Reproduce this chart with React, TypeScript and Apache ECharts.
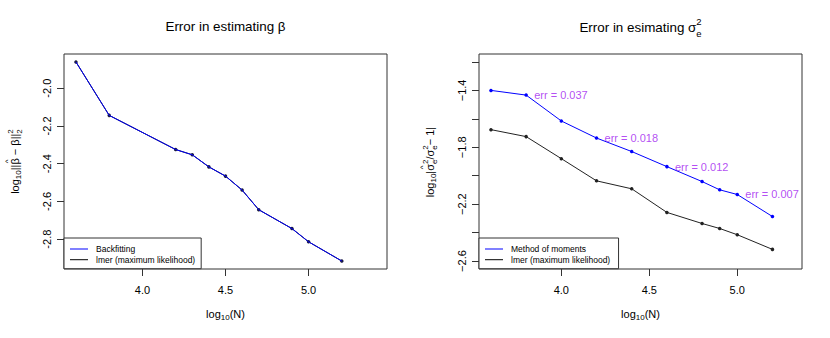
import React, { useEffect, useRef } from 'react';
import * as echarts from 'echarts';

const FONT = '"Liberation Sans", Arial, Helvetica, sans-serif';

// ---------- Left panel: error in estimating beta ----------
const logNBeta = [3.6, 3.8, 4.2, 4.3, 4.4, 4.5, 4.6, 4.7, 4.9, 5.0, 5.2];
const backfittingErr = [-1.861, -2.144, -2.325, -2.353, -2.417, -2.466, -2.54, -2.644, -2.744, -2.814, -2.916];
const lmerBetaErr = [-1.861, -2.144, -2.325, -2.353, -2.417, -2.466, -2.54, -2.644, -2.744, -2.814, -2.916];
const betaXTicks = [4.0, 4.5, 5.0];
const betaYTicks = [-2.8, -2.6, -2.4, -2.2, -2.0];
const betaXLim = [3.6, 5.4];

// ---------- Right panel: error in estimating sigma_e^2 ----------
const logNSigma = [3.6, 3.8, 4.0, 4.2, 4.4, 4.6, 4.8, 4.9, 5.0, 5.2];
const momErr = [-1.4, -1.433, -1.615, -1.735, -1.83, -1.936, -2.041, -2.099, -2.132, -2.287];
const lmerSigmaErr = [-1.676, -1.725, -1.88, -2.036, -2.092, -2.258, -2.336, -2.371, -2.415, -2.518];
const sigmaXTicks = [4.0, 4.5, 5.0];
const sigmaYTicks = [-2.6, -2.4, -2.2, -2.0, -1.8, -1.6, -1.4, -1.2];
const sigmaYLabels = [-2.6, -2.2, -1.8, -1.4];
const sigmaXLim = [3.6, 5.3];
const sigmaYLim = [-2.6, -1.2];
const errAt = [3.8, 4.2, 4.6, 5.0];
const errText = ['err = 0.037', 'err = 0.018', 'err = 0.012', 'err = 0.007'];

const BLUE = '#0000ff';
const BLACK = '#000000';
const PURPLE = '#a020f0';

function rlim(lo: number, hi: number) {
  const r = hi - lo;
  return [lo - 0.04 * r, hi + 0.04 * r];
}

type Tok = { t: string; s: number; dy?: number; keep?: boolean; over?: boolean };

let _ctx: CanvasRenderingContext2D | null = null;
function measure(t: string, s: number) {
  if (!_ctx) _ctx = document.createElement('canvas').getContext('2d');
  _ctx!.font = `${s}px "Liberation Sans", Arial, sans-serif`;
  return _ctx!.measureText(t).width;
}

function buildText(tokens: Tok[], cx: number, cy: number, rot: number, fill: string) {
  let x = 0;
  let pending = 0;
  const items: any[] = [];
  for (let i = 0; i < tokens.length; i++) {
    const tk = tokens[i];
    const w = measure(tk.t, tk.s);
    if (tk.over) {
      const next = tokens[i + 1];
      const wn = next ? measure(next.t, next.s) : w;
      items.push({ x: x + (wn - w) / 2, tk });
      continue;
    }
    items.push({ x, tk });
    if (tk.keep) {
      pending = Math.max(pending, w);
    } else {
      x += Math.max(w, pending);
      pending = 0;
    }
  }
  const W = x;
  return {
    type: 'group',
    x: cx,
    y: cy,
    rotation: rot,
    silent: true,
    children: items.map((it) => ({
      type: 'text',
      x: it.x - W / 2,
      y: it.tk.dy || 0,
      style: {
        text: it.tk.t,
        fontSize: it.tk.s,
        fontFamily: FONT,
        fill,
        textAlign: 'left',
        textVerticalAlign: 'middle',
        align: 'left',
        verticalAlign: 'middle',
      },
    })),
  };
}

const fmt = (v: number) => v.toFixed(1).replace('-', '\u2212');
const fmtH = (v: number) => v.toFixed(1);

function xAxisCfg(grid: number, lim: number[], ticks: number[]) {
  const [mn, mx] = rlim(lim[0], lim[1]);
  return {
    gridIndex: grid,
    type: 'value',
    min: mn,
    max: mx,
    axisLine: { show: false, onZero: false },
    axisTick: { show: true, length: 7, customValues: ticks, lineStyle: { color: '#333', width: 1 } },
    axisLabel: { customValues: ticks, margin: 15, fontSize: 11, color: '#000', fontFamily: FONT, formatter: fmtH },
    splitLine: { show: false },
  };
}

function yAxisCfg(grid: number, lim: number[], ticks: number[], labels: number[], f: (v: number) => string) {
  const [mn, mx] = rlim(lim[0], lim[1]);
  return {
    gridIndex: grid,
    type: 'value',
    min: mn,
    max: mx,
    axisLine: { show: false, onZero: false },
    axisTick: { show: true, length: 7, customValues: ticks, lineStyle: { color: '#333', width: 1 } },
    axisLabel: { customValues: labels, rotate: 90, margin: 12, fontSize: 11, color: '#000', fontFamily: FONT, formatter: f },
    splitLine: { show: false },
  };
}

const legendBase = {
  orient: 'vertical',
  top: 238,
  icon: 'rect',
  itemWidth: 18,
  itemHeight: 1,
  itemGap: 0.7,
  padding: [6, 6, 4, 6],
  backgroundColor: '#ffffff',
  borderColor: '#333',
  borderWidth: 1,
  borderRadius: 0,
  selectedMode: false,
  textStyle: { fontSize: 8.5, lineHeight: 10, color: '#000', fontFamily: FONT, padding: [0, 0, 0, 3] },
  z: 10,
};

export default function App() {
  const ref = useRef<HTMLDivElement>(null);
  useEffect(() => {
    document.body.style.margin = '0';
    const chart = echarts.init(ref.current!, undefined, { renderer: 'svg' });
    const betaYAxis = yAxisCfg(
      0,
      [Math.min(...backfittingErr, ...lmerBetaErr), Math.max(...backfittingErr, ...lmerBetaErr)],
      betaYTicks,
      betaYTicks,
      fmtH
    );

    const errData = errAt.map((x, i) => {
      const idx = logNSigma.indexOf(x);
      return { value: [x, momErr[idx]], name: errText[i] };
    });

    const option: any = {
      animation: false,
      grid: [
        { left: 64, top: 54, width: 323, height: 215, show: true, borderColor: '#333', borderWidth: 1, backgroundColor: 'transparent' },
        { left: 479, top: 54, width: 323, height: 215, show: true, borderColor: '#333', borderWidth: 1, backgroundColor: 'transparent' },
      ],
      xAxis: [xAxisCfg(0, betaXLim, betaXTicks), xAxisCfg(1, sigmaXLim, sigmaXTicks)],
      yAxis: [betaYAxis, yAxisCfg(1, sigmaYLim, sigmaYTicks, sigmaYLabels, fmt)],
      legend: [
        {
          ...legendBase,
          left: 64,
          data: [
            { name: 'Backfitting', itemStyle: { color: BLUE } },
            { name: 'lmer (maximum likelihood)', itemStyle: { color: BLACK } },
          ],
        },
        {
          ...legendBase,
          left: 479,
          data: [
            { name: 'Method of moments', itemStyle: { color: BLUE } },
            { name: 'lmer (maximum likelihood) ', itemStyle: { color: BLACK } },
          ],
        },
      ],
      series: [
        {
          name: 'lmer (maximum likelihood)',
          type: 'line',
          xAxisIndex: 0,
          yAxisIndex: 0,
          data: logNBeta.map((x, i) => [x, lmerBetaErr[i]]),
          lineStyle: { color: BLACK, width: 1 },
          itemStyle: { color: '#1a1a40' },
          symbol: 'circle',
          symbolSize: 3.5,
          z: 2,
        },
        {
          name: 'Backfitting',
          type: 'line',
          xAxisIndex: 0,
          yAxisIndex: 0,
          data: logNBeta.map((x, i) => [x, backfittingErr[i]]),
          lineStyle: { color: BLUE, width: 1 },
          itemStyle: { color: BLUE },
          showSymbol: false,
          symbol: 'none',
          z: 3,
        },
        {
          name: 'Method of moments',
          type: 'line',
          xAxisIndex: 1,
          yAxisIndex: 1,
          data: logNSigma.map((x, i) => [x, momErr[i]]),
          lineStyle: { color: BLUE, width: 1 },
          itemStyle: { color: BLUE },
          symbol: 'circle',
          symbolSize: 3.5,
          z: 3,
        },
        {
          name: 'lmer (maximum likelihood) ',
          type: 'line',
          xAxisIndex: 1,
          yAxisIndex: 1,
          data: logNSigma.map((x, i) => [x, lmerSigmaErr[i]]),
          lineStyle: { color: '#222', width: 1 },
          itemStyle: { color: '#222' },
          symbol: 'circle',
          symbolSize: 3.5,
          z: 2,
        },
        {
          name: 'err',
          type: 'scatter',
          xAxisIndex: 1,
          yAxisIndex: 1,
          data: errData,
          symbolSize: 0,
          silent: true,
          label: {
            show: true,
            position: 'right',
            distance: 8,
            formatter: (p: any) => p.name,
            color: PURPLE,
            fontSize: 11,
            fontFamily: FONT,
          },
          z: 4,
        },
      ],
      graphic: [
        buildText([{ t: 'Error in estimating \u03b2', s: 13.4 }], 225.5, 26, 0, '#000'),
        buildText(
          [
            { t: 'Error in esimating \u03c3', s: 13.4 },
            { t: '2', s: 9.5, dy: -5.5, keep: true },
            { t: 'e', s: 9.5, dy: 6 },
          ],
          640.5, 27, 0, '#000'
        ),
        buildText([{ t: 'log', s: 11 }, { t: '10', s: 8, dy: 3 }, { t: '(N)', s: 11 }], 225.5, 314, 0, '#000'),
        buildText([{ t: 'log', s: 11 }, { t: '10', s: 8, dy: 3 }, { t: '(N)', s: 11 }], 640.5, 314, 0, '#000'),
        buildText(
          [
            { t: 'log', s: 11 },
            { t: '10', s: 8, dy: 3 },
            { t: '||', s: 11 },
            { t: '^', s: 8, dy: -8, over: true },
            { t: '\u03b2', s: 11 },
            { t: ' \u2212 \u03b2||', s: 11 },
            { t: '2', s: 8, dy: -5, keep: true },
            { t: '2', s: 8, dy: 4 },
          ],
          15, 161.5, Math.PI / 2, '#000'
        ),
        buildText(
          [
            { t: 'log', s: 11 },
            { t: '10', s: 8, dy: 3 },
            { t: '|', s: 11 },
            { t: '^', s: 8, dy: -8, over: true },
            { t: '\u03c3', s: 11 },
            { t: '2', s: 8, dy: -5, keep: true },
            { t: 'e', s: 8, dy: 4 },
            { t: '/\u03c3', s: 11 },
            { t: '2', s: 8, dy: -5, keep: true },
            { t: 'e', s: 8, dy: 4 },
            { t: '\u2212 1|', s: 11 },
          ],
          430, 162, Math.PI / 2, '#000'
        ),
      ],
    };
    chart.setOption(option);
    return () => chart.dispose();
  }, []);
  return <div ref={ref} style={{ position: 'fixed', left: 0, top: 0, width: 830, height: 338, background: '#fff' }} />;
}
